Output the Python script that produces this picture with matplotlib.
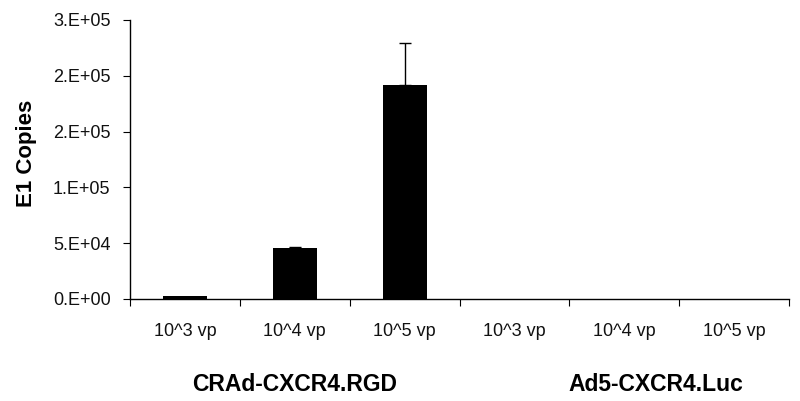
import matplotlib
matplotlib.use("Agg")
import matplotlib.pyplot as plt
import numpy as np

plt.rcParams['font.family'] = ['Liberation Sans', 'DejaVu Sans']

doses = ["10^3 vp", "10^4 vp", "10^5 vp", "10^3 vp", "10^4 vp", "10^5 vp"]
e1_copies = [3000, 45800, 192000, 0, 0, 0]
e1_err = [0, 1200, 37000, 0, 0, 0]
groups = ["CRAd-CXCR4.RGD", "Ad5-CXCR4.Luc"]
group_x = [1.0, 4.29]
ytick_vals = [0, 50000, 100000, 150000, 200000, 250000]
ytick_labels = ["0.E+00", "5.E+04", "1.E+05", "2.E+05", "2.E+05", "3.E+05"]

fig = plt.figure(figsize=(8, 4.01), dpi=100)
ax = fig.add_axes([0.1625, 0.2544, 0.82375, 0.6958])

x = np.arange(len(doses))
vals = np.array(e1_copies)
errs = np.array(e1_err)
ax.bar(x, vals, width=0.4, color='black')
# only the bars with a measured spread get an (upper) error bar
has_err = errs > 0
ax.errorbar(x[has_err], vals[has_err],
            yerr=[np.zeros(has_err.sum()), errs[has_err]],
            fmt='none', ecolor='black', elinewidth=1, capsize=4, capthick=1)

ax.set_xlim(-0.5, len(doses) - 0.5)
ax.set_ylim(0, 250000)
ax.set_yticks(ytick_vals)
ax.set_yticklabels(ytick_labels, fontsize=13, color='#111111')

ax.set_xticks(np.arange(len(doses) + 1) - 0.5)
ax.set_xticklabels([])
ax.set_xticks(x, minor=True)
ax.set_xticklabels(doses, minor=True, fontsize=13, color='#111111')
ax.tick_params(axis='x', which='minor', length=0, pad=17)
ax.tick_params(axis='x', which='major', length=5, direction='out')
ax.tick_params(axis='y', length=5, direction='out', pad=9)

ax.spines['top'].set_visible(False)
ax.spines['right'].set_visible(False)
for s in ['left', 'bottom']:
    ax.spines[s].set_linewidth(1)

ax.set_ylabel("E1 Copies", fontsize=16, fontweight='bold')
ax.yaxis.set_label_coords(-0.141, 0.523)

for gx, g in zip(group_x, groups):
    ax.text(gx, -0.305, g, transform=ax.get_xaxis_transform(),
            ha='center', va='center', fontsize=16.5, fontweight='bold')

fig.savefig("out.png", dpi=100)
